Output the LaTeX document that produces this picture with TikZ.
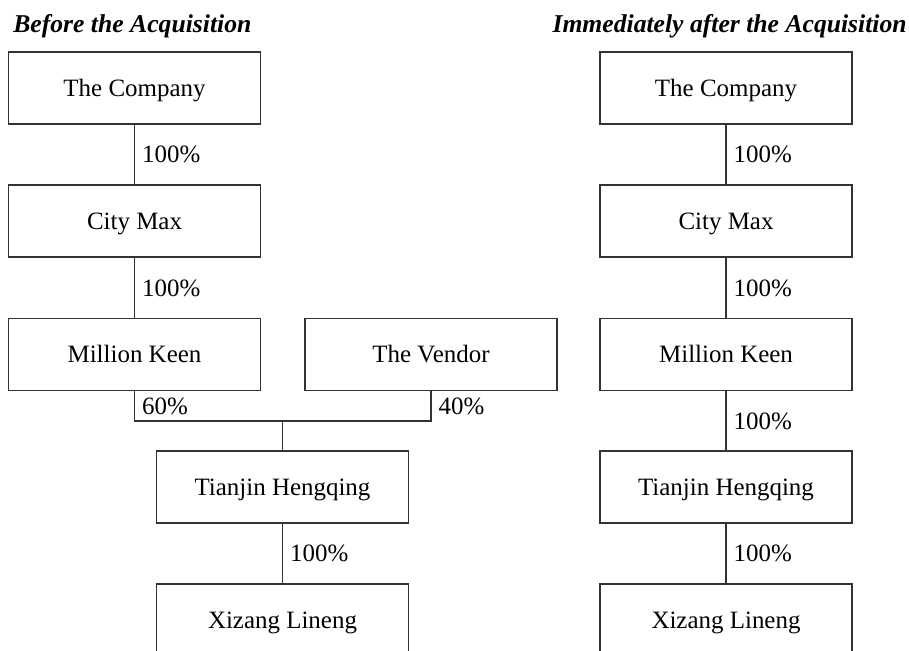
\documentclass[tikz,border=0pt]{standalone}
\usepackage{fontspec}
\setmainfont{Liberation Serif}
\usepackage{tikz}
\tikzstyle{entity}=[draw=black!80, line width=0.7pt, minimum width=5.04cm, minimum height=1.44cm, inner sep=0pt, text height=9.4pt, text depth=0pt, font=\fontsize{14.2}{17}\selectfont]
\tikzstyle{pct}=[right, inner sep=4pt, text height=9.4pt, text depth=0pt, font=\fontsize{14.2}{17}\selectfont]
\tikzstyle{heading}=[inner sep=0pt, font=\fontsize{14.6}{17}\selectfont\bfseries\itshape]
\tikzstyle{link}=[draw=black!80, line width=0.7pt]

\begin{document}
\begin{tikzpicture}[x=0.02cm, y=0.02cm]
		   \useasboundingbox (0,0) rectangle (909,650);
		   \clip (0,0) rectangle (909,650);
		   \begin{scope}
			   \node (hb) at (13,617)[heading, anchor=base west] {Before the Acquisition};
			   \node (co) at (134.5,562)[entity] {The Company};
			   \node (cm) at (134.5,429)[entity] {City Max};
			   \node (mk) at (134.5,295.5)[entity] {Million Keen};
			   \node (ven) at (431,295.5)[entity] {The Vendor};
			   \node (tj) at (282.5,163)[entity] {Tianjin Hengqing};
			   \node (xl) at (282.5,30)[entity] {Xizang Lineng};
			   \coordinate (join) at (282.5,229);
		   \end{scope}
		   \begin{scope}
			   \path [link] (co) edge node[pct] {100\%} (cm);
			   \path [link] (cm) edge node[pct] {100\%} (mk);
			   \draw [link] (mk.south) -- node[pct] {60\%} (mk.south |- join) -- (ven.south |- join) -- node[pct] {40\%} (ven.south);
			   \path [link] (join) edge (tj);
			   \path [link] (tj) edge node[pct] {100\%} (xl);
		   \end{scope}
		   \begin{scope}
			   \node (ha) at (907,617)[heading, anchor=base east] {Immediately after the Acquisition};
			   \node (co2) at (726,562)[entity] {The Company};
			   \node (cm2) at (726,429)[entity] {City Max};
			   \node (mk2) at (726,295.5)[entity] {Million Keen};
			   \node (tj2) at (726,163)[entity] {Tianjin Hengqing};
			   \node (xl2) at (726,30)[entity] {Xizang Lineng};
		   \end{scope}
		   \begin{scope}
			   \path [link] (co2) edge node[pct] {100\%} (cm2);
			   \path [link] (cm2) edge node[pct] {100\%} (mk2);
			   \path [link] (mk2) edge node[pct] {100\%} (tj2);
			   \path [link] (tj2) edge node[pct] {100\%} (xl2);
		   \end{scope}
	   \end{tikzpicture}
\end{document}
